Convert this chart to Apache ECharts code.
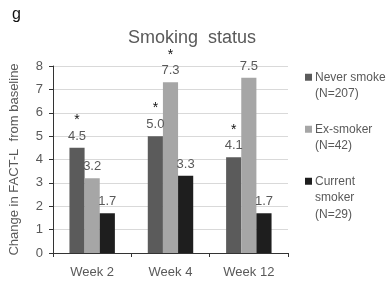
<!DOCTYPE html>
<html><head><meta charset="utf-8">
<script src="https://cdn.jsdelivr.net/npm/echarts@6/dist/echarts.min.js"></script>
<style>html,body{margin:0;padding:0;background:#fff}#c{width:387px;height:281px}</style>
</head><body><div id="c"></div>
<script>
var categories = ['Week 2', 'Week 4', 'Week 12'];
var seriesNames = ['Never smoke (N=207)', 'Ex-smoker (N=42)', 'Current smoker (N=29)'];
var legendTexts = ['Never smoke\n(N=207)', 'Ex-smoker\n(N=42)', 'Current\nsmoker\n(N=29)'];
var neverSmoke = [4.5, 5.0, 4.1];
var exSmoker = [3.2, 7.3, 7.5];
var currentSmoker = [1.7, 3.3, 1.7];
var neverStar = [true, true, true];
var exStar = [false, true, false];
var currentStar = [false, false, false];
var yTicks = [0, 1, 2, 3, 4, 5, 6, 7, 8];

var colors = ['#5b5b5b', '#a6a6a6', '#1e1e1e'];
var txt = '#595959';
var FONT = 'Liberation Sans';

function mkSeries(i, vals, stars) {
  return {
    name: seriesNames[i], type: 'bar', barGap: '0%', barCategoryGap: '42%',
    itemStyle: { color: colors[i] },
    data: vals,
    label: {
      show: true, position: 'top', distance: 3,
      formatter: function (p) {
        var s = (p.value).toFixed(1);
        return stars[p.dataIndex] ? '{s|*}\n{v|' + s + '}' : '{v|' + s + '}';
      },
      rich: {
        s: { fontSize: 14, color: '#111', fontFamily: FONT, lineHeight: 15 },
        v: { fontSize: 13, color: txt, fontFamily: FONT, lineHeight: 17 }
      }
    }
  };
}

function mkLegend(i, top, pre) {
  return {
    show: true, orient: 'vertical', left: 300, top: top,
    icon: 'rect', itemWidth: 7, itemHeight: 7, itemGap: 0,
    data: [seriesNames[i]],
    formatter: function () { return pre + legendTexts[i]; },
    textStyle: { color: txt, fontSize: 12, fontFamily: FONT, lineHeight: 16.5, padding: [0, 0, 0, -2] },
    selectedMode: false
  };
}

var chart = echarts.init(document.getElementById('c'), null, { renderer: 'canvas' });
chart.setOption({
  animation: false,
  backgroundColor: '#fff',
  title: [
    { text: 'g', left: 7, top: 2, textStyle: { fontSize: 16, color: '#111', fontFamily: FONT, fontWeight: 'normal' } },
    { text: 'Smoking  status', left: 187, textAlign: 'center', top: 24, textStyle: { fontSize: 18, color: txt, fontFamily: FONT, fontWeight: 'normal' } }
  ],
  legend: [mkLegend(0, 47.5, '\n'), mkLegend(1, 99.5, '\n'), mkLegend(2, 135, '\n\n')],
  grid: { left: 49, right: 99, top: 66, bottom: 28, containLabel: false },
  xAxis: {
    type: 'category', data: categories,
    axisLine: { lineStyle: { color: '#333', width: 1 } },
    axisTick: { show: true, alignWithLabel: false, length: 4, lineStyle: { color: '#333' } },
    axisLabel: { color: txt, fontSize: 13, fontFamily: FONT, margin: 13 }
  },
  yAxis: {
    type: 'value', min: yTicks[0], max: yTicks[yTicks.length - 1], interval: 1,
    name: 'Change in FACT-L  from baseline', nameLocation: 'middle', nameGap: 32,
    nameTextStyle: { color: txt, fontSize: 13, fontFamily: FONT },
    axisLine: { show: true, lineStyle: { color: '#333', width: 1 } },
    axisTick: { show: true, length: 4, lineStyle: { color: '#333' } },
    axisLabel: { color: txt, fontSize: 13, fontFamily: FONT, margin: 10 },
    splitLine: { show: true, lineStyle: { color: '#d9d9d9', width: 1 } }
  },
  series: [
    mkSeries(0, neverSmoke, neverStar),
    mkSeries(1, exSmoker, exStar),
    mkSeries(2, currentSmoker, currentStar)
  ]
});
</script></body></html>
